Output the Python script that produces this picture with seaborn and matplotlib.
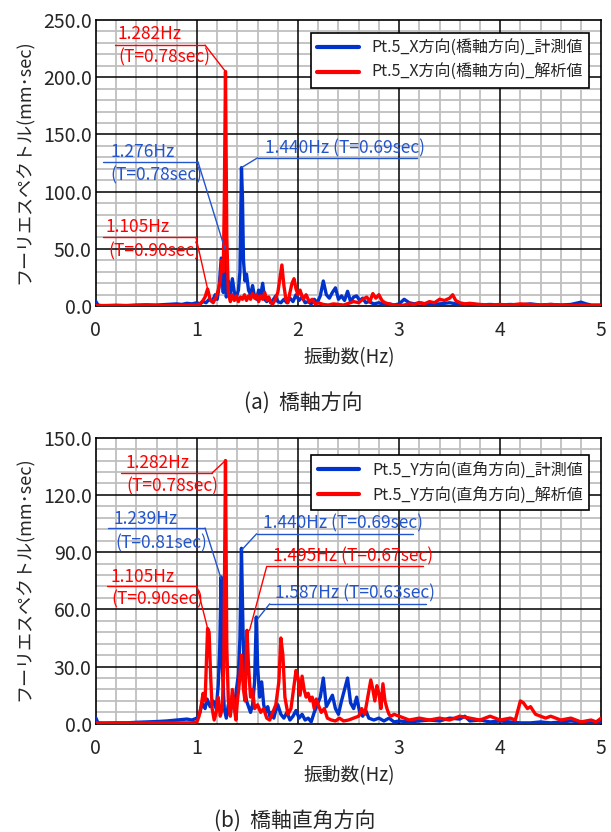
import matplotlib
matplotlib.use("Agg")
import matplotlib.pyplot as plt
from matplotlib.ticker import MultipleLocator, FormatStrFormatter
import seaborn as sns

# --- data ---

# (a) X direction, measured
x_meas_f = [0.00, 0.02, 0.05, 0.10, 0.20, 0.30, 0.40, 0.50, 0.60, 0.70, 0.80, 0.85, 0.90, 0.95,
            1.00, 1.03, 1.06, 1.09, 1.12, 1.15, 1.18, 1.20, 1.22, 1.24, 1.26, 1.276, 1.29, 1.31,
            1.33, 1.35, 1.37, 1.39, 1.41, 1.425, 1.44, 1.45, 1.46, 1.475, 1.49, 1.51, 1.53, 1.55,
            1.57, 1.59, 1.61, 1.63, 1.65, 1.67, 1.69, 1.71, 1.73, 1.75, 1.78, 1.80, 1.83, 1.86,
            1.89, 1.92, 1.95, 1.98, 2.01, 2.04, 2.07, 2.10, 2.13, 2.16, 2.19, 2.22, 2.25, 2.28,
            2.31, 2.34, 2.37, 2.40, 2.43, 2.46, 2.49, 2.52, 2.55, 2.58, 2.61, 2.64, 2.67, 2.70,
            2.75, 2.80, 2.85, 2.90, 2.95, 3.00, 3.05, 3.10, 3.15, 3.20, 3.30, 3.40, 3.50, 3.60,
            3.70, 3.80, 3.90, 4.00, 4.10, 4.20, 4.30, 4.40, 4.50, 4.60, 4.70, 4.80, 4.85, 4.90, 5.00]
x_meas_a = [4.0, 1.0, 0.5, 0.5, 0.8, 0.5, 1.0, 1.2, 1.0, 1.5, 2.0, 1.5, 2.5, 2.0,
            3.0, 2.0, 4.0, 3.0, 6.0, 4.0, 10.0, 6.0, 18.0, 42.0, 12.0, 50.0, 8.0, 22.0,
            10.0, 24.0, 12.0, 8.0, 14.0, 30.0, 121.0, 95.0, 40.0, 22.0, 28.0, 14.0, 10.0, 18.0,
            8.0, 6.0, 14.0, 9.0, 20.0, 6.0, 4.0, 7.0, 3.0, 5.0, 9.0, 4.0, 3.0, 6.0,
            3.0, 7.0, 4.0, 10.0, 5.0, 8.0, 3.0, 4.0, 2.0, 6.0, 3.0, 9.0, 22.0, 10.0,
            7.0, 12.0, 16.0, 6.0, 9.0, 5.0, 13.0, 4.0, 8.0, 9.0, 5.0, 7.0, 3.0, 4.0,
            2.0, 3.0, 1.5, 2.0, 1.0, 2.0, 6.0, 3.0, 2.0, 3.0, 1.5, 2.0, 3.0, 1.5,
            2.0, 1.0, 1.5, 1.0, 1.5, 1.0, 2.0, 1.0, 1.5, 1.0, 1.5, 3.5, 2.0, 1.0, 1.0]

# (a) X direction, analysis
x_anal_f = [0.00, 0.20, 0.40, 0.60, 0.80, 0.90, 1.00, 1.03, 1.06, 1.08, 1.105, 1.13, 1.16, 1.19,
            1.21, 1.23, 1.245, 1.26, 1.27, 1.282, 1.295, 1.31, 1.33, 1.35, 1.37, 1.39, 1.41, 1.43,
            1.45, 1.47, 1.49, 1.51, 1.53, 1.55, 1.57, 1.59, 1.61, 1.63, 1.65, 1.67, 1.69, 1.71,
            1.73, 1.75, 1.77, 1.80, 1.82, 1.84, 1.86, 1.88, 1.90, 1.92, 1.94, 1.96, 1.98, 2.00,
            2.02, 2.05, 2.08, 2.11, 2.14, 2.17, 2.20, 2.25, 2.30, 2.35, 2.40, 2.45, 2.50, 2.55,
            2.60, 2.64, 2.68, 2.71, 2.74, 2.77, 2.80, 2.83, 2.86, 2.90, 2.95, 3.00, 3.05, 3.10,
            3.15, 3.20, 3.25, 3.30, 3.35, 3.40, 3.45, 3.50, 3.53, 3.56, 3.60, 3.65, 3.70, 3.80,
            3.90, 4.00, 4.10, 4.20, 4.30, 4.40, 4.50, 4.60, 4.70, 4.80, 4.90, 5.00]
x_anal_a = [0.5, 0.5, 0.5, 0.5, 0.5, 0.7, 1.0, 2.0, 5.0, 8.0, 15.0, 6.0, 3.0, 8.0,
            14.0, 22.0, 40.0, 30.0, 90.0, 205.0, 60.0, 12.0, 4.0, 10.0, 5.0, 9.0, 4.0, 8.0,
            6.0, 10.0, 5.0, 9.0, 6.0, 11.0, 7.0, 10.0, 4.0, 9.0, 6.0, 12.0, 5.0, 8.0,
            3.0, 2.0, 5.0, 12.0, 24.0, 36.0, 18.0, 6.0, 3.0, 12.0, 20.0, 24.0, 15.0, 10.0,
            14.0, 6.0, 10.0, 4.0, 6.0, 2.0, 3.0, 1.5, 1.0, 2.0, 1.5, 1.0, 2.5, 4.0,
            3.0, 6.0, 8.0, 4.0, 11.0, 7.0, 10.0, 5.0, 3.0, 2.0, 1.0, 0.5, 1.0, 2.0,
            1.5, 3.0, 2.0, 4.0, 3.0, 6.0, 5.0, 7.0, 10.0, 5.0, 3.0, 2.0, 2.5, 1.5,
            1.0, 1.5, 1.0, 2.0, 1.5, 1.0, 1.5, 1.0, 0.5, 1.0, 0.5, 0.5]

# (b) Y direction, measured
y_meas_f = [0.00, 0.02, 0.05, 0.10, 0.20, 0.30, 0.40, 0.50, 0.60, 0.70, 0.80, 0.90, 0.95, 1.00,
            1.03, 1.05, 1.08, 1.10, 1.13, 1.16, 1.19, 1.21, 1.225, 1.239, 1.25, 1.27, 1.29, 1.31,
            1.33, 1.35, 1.37, 1.39, 1.41, 1.425, 1.44, 1.455, 1.47, 1.49, 1.51, 1.53, 1.55, 1.57,
            1.587, 1.60, 1.62, 1.64, 1.66, 1.68, 1.70, 1.72, 1.74, 1.76, 1.78, 1.80, 1.83, 1.86,
            1.89, 1.92, 1.95, 1.98, 2.01, 2.04, 2.07, 2.10, 2.13, 2.16, 2.19, 2.22, 2.25, 2.28,
            2.31, 2.34, 2.37, 2.40, 2.43, 2.46, 2.49, 2.52, 2.55, 2.58, 2.61, 2.64, 2.67, 2.70,
            2.75, 2.80, 2.85, 2.90, 2.95, 3.00, 3.10, 3.20, 3.30, 3.40, 3.50, 3.60, 3.65, 3.70,
            3.80, 3.90, 4.00, 4.10, 4.20, 4.30, 4.40, 4.50, 4.60, 4.70, 4.80, 4.90, 5.00]
y_meas_a = [3.0, 0.5, 0.3, 0.3, 0.5, 0.5, 0.8, 1.0, 1.2, 1.5, 2.0, 2.5, 2.0, 3.0,
            6.0, 11.0, 8.0, 13.0, 9.0, 12.0, 8.0, 20.0, 40.0, 77.0, 30.0, 8.0, 3.0, 10.0,
            5.0, 15.0, 8.0, 18.0, 26.0, 45.0, 92.0, 50.0, 20.0, 12.0, 9.0, 6.0, 10.0, 22.0,
            56.0, 30.0, 14.0, 22.0, 10.0, 6.0, 9.0, 4.0, 6.0, 3.0, 7.0, 10.0, 5.0, 3.0,
            6.0, 2.0, 4.0, 7.0, 3.0, 5.0, 2.0, 3.0, 1.0, 6.0, 10.0, 14.0, 24.0, 9.0,
            12.0, 15.0, 8.0, 5.0, 12.0, 18.0, 24.0, 11.0, 8.0, 14.0, 6.0, 4.0, 7.0, 3.0,
            2.0, 3.0, 1.5, 3.0, 1.0, 1.5, 1.0, 1.5, 2.0, 1.5, 3.0, 2.5, 4.0, 1.5,
            2.0, 1.0, 1.5, 1.0, 0.5, 0.5, 1.0, 0.5, 1.0, 1.5, 1.0, 0.5, 0.5]

# (b) Y direction, analysis
y_anal_f = [0.00, 0.20, 0.40, 0.60, 0.80, 0.90, 0.95, 1.00, 1.02, 1.04, 1.06, 1.08, 1.095, 1.105,
            1.12, 1.135, 1.15, 1.17, 1.19, 1.21, 1.23, 1.25, 1.265, 1.282, 1.295, 1.31, 1.33, 1.35,
            1.37, 1.385, 1.40, 1.42, 1.44, 1.46, 1.475, 1.495, 1.51, 1.53, 1.55, 1.57, 1.60, 1.63,
            1.66, 1.69, 1.72, 1.75, 1.78, 1.81, 1.83, 1.85, 1.87, 1.90, 1.93, 1.96, 1.98, 2.00,
            2.02, 2.04, 2.06, 2.08, 2.10, 2.12, 2.14, 2.16, 2.18, 2.20, 2.23, 2.26, 2.29, 2.33,
            2.37, 2.41, 2.45, 2.50, 2.55, 2.60, 2.63, 2.66, 2.69, 2.72, 2.74, 2.76, 2.78, 2.80,
            2.82, 2.84, 2.86, 2.88, 2.90, 2.92, 2.95, 3.00, 3.05, 3.10, 3.20, 3.30, 3.40, 3.50,
            3.60, 3.70, 3.80, 3.90, 4.00, 4.10, 4.15, 4.20, 4.23, 4.27, 4.30, 4.35, 4.40, 4.45,
            4.50, 4.60, 4.70, 4.80, 4.90, 4.95, 5.00]
y_anal_a = [0.5, 0.5, 0.5, 0.5, 0.5, 0.5, 0.5, 1.0, 4.0, 9.0, 16.0, 12.0, 35.0, 50.0,
            48.0, 25.0, 8.0, 2.0, 6.0, 14.0, 4.0, 8.0, 30.0, 138.0, 40.0, 12.0, 4.0, 18.0,
            8.0, 2.0, 12.0, 22.0, 36.0, 18.0, 12.0, 49.0, 30.0, 14.0, 18.0, 8.0, 10.0, 6.0,
            8.0, 3.0, 2.0, 6.0, 10.0, 22.0, 45.0, 36.0, 14.0, 5.0, 8.0, 20.0, 28.0, 24.0,
            15.0, 25.0, 18.0, 14.0, 16.0, 12.0, 14.0, 8.0, 13.0, 10.0, 6.0, 8.0, 3.0, 2.0,
            1.5, 3.0, 1.5, 2.0, 3.0, 4.0, 8.0, 5.0, 14.0, 23.0, 18.0, 12.0, 20.0, 16.0,
            8.0, 21.0, 12.0, 8.0, 5.0, 4.0, 5.0, 4.0, 3.0, 2.0, 3.0, 2.0, 3.0, 2.0,
            4.0, 3.0, 2.0, 4.0, 2.0, 3.0, 2.0, 12.0, 11.0, 8.0, 9.0, 5.0, 4.0, 3.0,
            4.0, 2.0, 3.0, 1.0, 2.0, 1.0, 3.0]

legend_a = ['Pt.5_X方向(橋軸方向)_計測値', 'Pt.5_X方向(橋軸方向)_解析値']
legend_b = ['Pt.5_Y方向(直角方向)_計測値', 'Pt.5_Y方向(直角方向)_解析値']

BLUE = '#0033CC'
RED = '#FF0000'
BLUE_TXT = '#2255CC'

# callouts: text lines (text, x, y), underline (x0, x1, y), tip (freq, amp)
callouts_a = [
    dict(c=RED, lines=[('1.282Hz', 0.21, 238.0), ('(T=0.78sec)', 0.22, 217.0)],
         bar=(0.19, 1.08, 228.0), tip=(1.282, 205.0)),
    dict(c=BLUE_TXT, lines=[('1.276Hz', 0.14, 135.0), ('(T=0.78sec)', 0.14, 114.5)],
         bar=(0.07, 1.01, 126.0), tip=(1.276, 50.0)),
    dict(c=BLUE_TXT, lines=[('1.440Hz (T=0.69sec)', 1.67, 138.0)],
         bar=(1.60, 3.18, 129.6), tip=(1.44, 121.0)),
    dict(c=RED, lines=[('1.105Hz', 0.09, 69.3), ('(T=0.90sec)', 0.12, 48.1)],
         bar=(0.07, 0.99, 60.1), tip=(1.105, 15.0)),
]
callouts_b = [
    dict(c=RED, lines=[('1.282Hz', 0.29, 136.7), ('(T=0.78sec)', 0.30, 124.4)],
         bar=(0.25, 1.15, 131.5), tip=(1.282, 138.0)),
    dict(c=BLUE_TXT, lines=[('1.239Hz', 0.17, 107.3), ('(T=0.81sec)', 0.19, 94.8)],
         bar=(0.12, 1.08, 102.6), tip=(1.239, 76.0)),
    dict(c=BLUE_TXT, lines=[('1.440Hz (T=0.69sec)', 1.65, 105.2)],
         bar=(1.59, 3.14, 99.6), tip=(1.44, 91.0)),
    dict(c=RED, lines=[('1.495Hz (T=0.67sec)', 1.75, 87.7)],
         bar=(1.69, 3.24, 82.5), tip=(1.52, 49.0)),
    dict(c=BLUE_TXT, lines=[('1.587Hz (T=0.63sec)', 1.77, 68.2)],
         bar=(1.72, 3.27, 62.9), tip=(1.60, 55.0)),
    dict(c=RED, lines=[('1.105Hz', 0.14, 77.2), ('(T=0.90sec)', 0.155, 65.0)],
         bar=(0.11, 1.00, 72.0), tip=(1.11, 49.0)),
]

sns.set_style("white")
plt.rcParams['font.family'] = ['Noto Sans CJK JP', 'DejaVu Sans']

fig = plt.figure(figsize=(6.11, 8.32), dpi=100)
ax1 = fig.add_axes([0.157, 0.632, 0.827, 0.344])
ax2 = fig.add_axes([0.157, 0.130, 0.827, 0.344])


def panel(ax, fm, am, fa, aa, labels, ymax, ystep, yminor, callouts, leg_anchor):
    sns.lineplot(x=fm, y=am, color=BLUE, lw=2.4, label=labels[0], ax=ax,
                 estimator=None, sort=False, zorder=3)
    sns.lineplot(x=fa, y=aa, color=RED, lw=2.4, label=labels[1], ax=ax,
                 estimator=None, sort=False, zorder=4)
    ax.set_xlim(0, 5)
    ax.set_ylim(0, ymax)
    ax.xaxis.set_major_locator(MultipleLocator(1))
    ax.xaxis.set_minor_locator(MultipleLocator(0.2))
    ax.yaxis.set_major_locator(MultipleLocator(ystep))
    ax.yaxis.set_minor_locator(MultipleLocator(yminor))
    ax.yaxis.set_major_formatter(FormatStrFormatter('%.1f'))
    ax.set_axisbelow(True)
    # gray minor grid from the axis, black major lines drawn over it
    ax.grid(which='minor', color='#BFBFBF', lw=1.3)
    ax.grid(which='major', visible=False)
    for xv in range(1, 5):
        ax.axvline(xv, color='black', lw=1.1, zorder=1)
    for k in range(1, int(ymax / ystep)):
        ax.axhline(k * ystep, color='black', lw=1.1, zorder=1)
    ax.tick_params(which='both', length=0, labelsize=14)
    ax.tick_params(axis='x', pad=10)
    ax.tick_params(axis='y', pad=3)
    for s in ax.spines.values():
        s.set_color('black')
        s.set_linewidth(1.2)
    ax.set_xlabel('')
    ax.set_ylabel('')

    for co in callouts:
        for txt, tx, ty in co['lines']:
            ax.text(tx, ty, txt, color=co['c'], fontsize=12.5, ha='left', va='center', zorder=6)
        x0, x1, yb = co['bar']
        ax.plot([x0, x1], [yb, yb], color=co['c'], lw=1.0, zorder=6)
        fx, fy = co['tip']
        sx = x1 if fx > x1 else x0
        ax.plot([sx, fx], [yb, fy], color=co['c'], lw=1.0, zorder=6)

    leg = ax.legend(loc='upper right', bbox_to_anchor=leg_anchor, borderaxespad=0,
                    fontsize=11.5, frameon=True, fancybox=False, framealpha=1,
                    handlelength=2.6, borderpad=0.4, labelspacing=0.5)
    leg.set_zorder(7)
    leg.get_frame().set_edgecolor('black')
    leg.get_frame().set_linewidth(1.2)
    for h in leg.get_lines():
        h.set_linewidth(3)


panel(ax1, x_meas_f, x_meas_a, x_anal_f, x_anal_a, legend_a, 250, 50, 10, callouts_a, (0.976, 0.955))
panel(ax2, y_meas_f, y_meas_a, y_anal_f, y_anal_a, legend_b, 150, 30, 6, callouts_b, (0.976, 0.94))

ylab = 'フーリエスペクトル(mm･sec)'
fig.text(25 / 611, 0.806, ylab, rotation=90, ha='center', va='center', fontsize=13)
fig.text(25 / 611, 0.305, ylab, rotation=90, ha='center', va='center', fontsize=13)
fig.text(0.571, 0.570, '振動数(Hz)', ha='center', va='center', fontsize=13.5)
fig.text(0.571, 0.068, '振動数(Hz)', ha='center', va='center', fontsize=13.5)
fig.text(0.497, 0.516, '(a)  橋軸方向', ha='center', va='center', fontsize=15)
fig.text(0.483, 0.013, '(b)  橋軸直角方向', ha='center', va='center', fontsize=15)

fig.savefig('out.png', dpi=100)
